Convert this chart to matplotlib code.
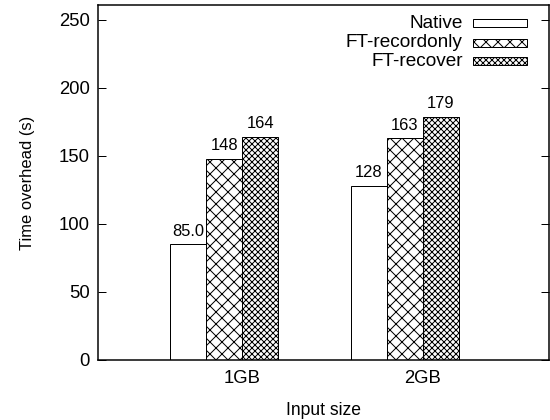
import matplotlib
matplotlib.use("Agg")
import matplotlib.pyplot as plt
from matplotlib.patches import Rectangle
import numpy as np

DPI = 72

plt.rcParams['font.family'] = ['Liberation Sans', 'DejaVu Sans']
plt.rcParams['hatch.linewidth'] = 1.0

# Data
categories = ["1GB", "2GB"]
series_names = ["Native", "FT-recordonly", "FT-recover"]
native = [85.0, 128]
ft_recordonly = [148, 163]
ft_recover = [164, 179]
hatches = ["", "xx", "xxxx"]
yticks = [0, 50, 100, 150, 200, 250]

values = [native, ft_recordonly, ft_recover]

fig = plt.figure(figsize=(550 / DPI, 420 / DPI), dpi=DPI)
ax = fig.add_axes([98 / 550, 60 / 420, 451 / 550, 355 / 420])

x = np.arange(len(categories))
width = 0.2
offsets = [-0.3, -0.1, 0.1]


def fmt(v):
    return f"{v:.1f}" if v < 100 else f"{v:.0f}"


for vals, off, h in zip(values, offsets, hatches):
    bars = ax.bar(x + off, vals, width, facecolor="white", edgecolor="black",
                  hatch=h, linewidth=1.0, zorder=2)
    for b, v in zip(bars, vals):
        ax.text(b.get_x() + b.get_width() / 2, v + 4, fmt(v),
                ha="center", va="bottom", fontsize=16.5)

ax.set_xlim(-0.8, 1.7)
ax.set_ylim(0, 261)
ax.set_xticks(x)
ax.set_xticklabels(categories, fontsize=18.5)
ax.set_yticks(yticks)
ax.set_yticklabels([str(t) for t in yticks], fontsize=18.5)
ax.tick_params(axis="y", direction="in", length=8, width=1, right=True, pad=8)
ax.tick_params(axis="x", length=0, pad=10)
for s in ax.spines.values():
    s.set_linewidth(1.5)

ax.set_xlabel("Input size", fontsize=17.5, labelpad=15)
ax.set_ylabel("Time overhead (s)", fontsize=16.5, labelpad=24)

# Key in the upper right corner: label text followed by a swatch
rows_y = [0.949, 0.893, 0.842]
for name, h, yy in zip(series_names, hatches, rows_y):
    ax.text(0.809, yy, name, ha="right", va="center", fontsize=19,
            transform=ax.transAxes)
    ax.add_patch(Rectangle((0.831, yy - 0.0113), 0.120, 0.0225,
                           transform=ax.transAxes, facecolor="white",
                           edgecolor="black", hatch=h, linewidth=1.0))

fig.savefig("out.png", dpi=DPI)
